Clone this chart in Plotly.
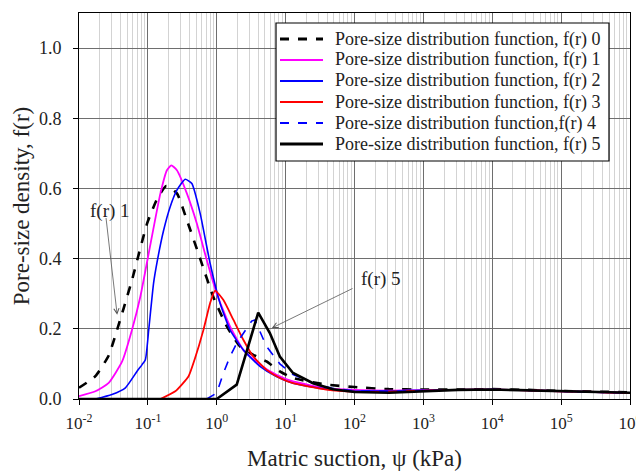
import plotly.graph_objects as go

# ---- data (suction in kPa, density) ----
x0 = [0.01, 0.0173, 0.027, 0.0358, 0.0447, 0.059, 0.0778, 0.0973, 0.136, 0.185, 0.264, 0.368, 0.574, 0.895,
      1.40, 2.17, 3.39, 5.28, 8.24, 12.8, 38.9, 100, 316, 1000, 3162, 1e4, 31623, 1e5, 316228, 1e6]
y0 = [0.032, 0.065, 0.124, 0.198, 0.26, 0.34, 0.43, 0.50, 0.57, 0.607, 0.586, 0.51, 0.40, 0.29,
      0.207, 0.15, 0.126, 0.107, 0.079, 0.06, 0.041, 0.034, 0.028, 0.027, 0.027, 0.028, 0.026, 0.023, 0.021, 0.019]

x1 = [0.01, 0.0173, 0.027, 0.0423, 0.059, 0.0778, 0.1087, 0.152, 0.189, 0.219, 0.264, 0.368, 0.514, 0.716,
      1.0, 1.56, 2.43, 4.24, 7.36, 12.8, 38.9, 100, 316, 1000, 3162, 1e4, 31623, 1e5, 316228, 1e6]
y1 = [0.008, 0.022, 0.046, 0.107, 0.198, 0.292, 0.44, 0.586, 0.652, 0.666, 0.652, 0.586, 0.50, 0.396,
      0.30, 0.207, 0.14, 0.098, 0.069, 0.05, 0.031, 0.026, 0.024, 0.025, 0.026, 0.027, 0.025, 0.022, 0.02, 0.017]

x2 = [0.0173, 0.030, 0.0472, 0.0697, 0.0824, 0.092, 0.103, 0.121, 0.136, 0.169, 0.211, 0.264, 0.348, 0.435,
      0.574, 0.80, 1.117, 1.56, 2.43, 4.24, 7.36, 12.8, 38.9, 100, 316, 1000, 3162, 1e4, 31623, 1e5, 316228, 1e6]
y2 = [0.0, 0.013, 0.032, 0.079, 0.098, 0.112, 0.198, 0.33, 0.39, 0.48, 0.548, 0.595, 0.626, 0.614,
      0.529, 0.387, 0.273, 0.197, 0.14, 0.093, 0.064, 0.045, 0.028, 0.023, 0.023, 0.025, 0.026, 0.027, 0.025, 0.022, 0.02, 0.017]

x3 = [0.152, 0.25, 0.39, 0.476, 0.641, 0.80, 0.946, 1.25, 1.74, 2.43, 3.39, 5.28, 8.24, 12.8, 38.9,
      100, 316, 1000, 3162, 1e4, 31623, 1e5, 316228, 1e6]
y3 = [0.0, 0.022, 0.065, 0.112, 0.197, 0.273, 0.309, 0.282, 0.226, 0.169, 0.121, 0.083, 0.06, 0.045, 0.027,
      0.021, 0.021, 0.024, 0.026, 0.027, 0.025, 0.022, 0.02, 0.017]

x4 = [0.716, 1.0, 1.25, 1.56, 1.95, 2.43, 3.21, 3.58, 5.28, 8.24, 12.8, 25, 48.6,
      100, 316, 1000, 3162, 1e4, 31623, 1e5, 316228, 1e6]
y4 = [0.0, 0.017, 0.074, 0.121, 0.159, 0.188, 0.222, 0.225, 0.15, 0.10, 0.07, 0.045, 0.03,
      0.023, 0.022, 0.024, 0.026, 0.027, 0.025, 0.022, 0.02, 0.017]

x5 = [0.01, 1.0, 1.95, 4.0, 5.9, 8.24, 12.8, 25, 48.6, 100, 316, 1000, 3162, 1e4, 31623, 1e5, 316228, 1e6]
y5 = [0.0, 0.0, 0.041, 0.246, 0.188, 0.121, 0.074, 0.045, 0.028, 0.02, 0.018, 0.023, 0.026, 0.027, 0.025, 0.022, 0.02, 0.018]

names = ["Pore-size distribution function, f(r) 0",
         "Pore-size distribution function, f(r) 1",
         "Pore-size distribution function, f(r) 2",
         "Pore-size distribution function, f(r) 3",
         "Pore-size distribution function,f(r) 4",
         "Pore-size distribution function, f(r) 5"]

x_tick_exp = [-2, -1, 0, 1, 2, 3, 4, 5, 6]
x_tick_text = ["10<sup>%d</sup>" % e for e in x_tick_exp]
y_tick_vals = [0.0, 0.2, 0.4, 0.6, 0.8, 1.0]
y_tick_text = ["0.0", "0.2", "0.4", "0.6", "0.8", "1.0"]
minor_vals = [m * 10.0 ** e for e in range(-2, 6) for m in range(2, 10)]

FONT = "Liberation Serif, Times New Roman, serif"
# the page body has an 8px default margin, so the figure div is offset by 8px
OFF = 8
W, H = 644 - OFF, 471 - OFF
PLOT_L, PLOT_R, PLOT_T, PLOT_B = 79, 630, 13, 399   # page pixel positions of the plot area
ML, MR, MT, MB = PLOT_L - OFF, W - (PLOT_R - OFF), PLOT_T - OFF, H - (PLOT_B - OFF)
PW, PH = PLOT_R - PLOT_L, PLOT_B - PLOT_T


def px2x(px):
    return (px - PLOT_L) / PW


def py2y(py):
    return (PLOT_B - py) / PH


fig = go.Figure()
styles = [
    dict(color="black", width=2.6, dash="dash"),
    dict(color="#ff00ff", width=1.8),
    dict(color="#0000ff", width=1.6),
    dict(color="#ff0000", width=1.8),
    dict(color="#0000ff", width=1.6, dash="dash"),
    dict(color="black", width=2.6),
]
shapes = ["spline", "spline", "spline", "spline", "linear", "linear"]
for xs, ys, nm, st, sh in zip([x0, x1, x2, x3, x4, x5], [y0, y1, y2, y3, y4, y5], names, styles, shapes):
    fig.add_trace(go.Scatter(x=xs, y=ys, name=nm, mode="lines", showlegend=False,
                             line=dict(shape=sh, smoothing=0.5, **st)))

# ---- legend box (drawn to match the reference's compact row spacing) ----
LEG_L, LEG_T, LEG_R, LEG_B = 276, 23, 609, 161
ROW0, ROW_H = 39, 21
SAMPLE_L, SAMPLE_R, TEXT_L = 280, 323, 333
fig.add_shape(type="rect", xref="paper", yref="paper",
              x0=px2x(LEG_L), x1=px2x(LEG_R), y0=py2y(LEG_B), y1=py2y(LEG_T),
              line=dict(color="black", width=1.2), fillcolor="white", layer="above")
for i, (nm, st) in enumerate(zip(names, styles)):
    yc = py2y(ROW0 + ROW_H * i)
    ldash = st.get("dash", "solid")
    fig.add_shape(type="line", xref="paper", yref="paper",
                  x0=px2x(SAMPLE_L), x1=px2x(SAMPLE_R), y0=yc, y1=yc,
                  line=dict(color=st["color"], width=st["width"] + 0.4, dash=ldash), layer="above")
    fig.add_annotation(x=px2x(TEXT_L), y=yc, xref="paper", yref="paper", xanchor="left", yanchor="middle",
                       text=nm, showarrow=False, font=dict(family=FONT, size=18, color="#222"))

# annotation arrows
fig.add_annotation(x=-1.446, y=0.24, ax=-1.61, ay=0.52, axref="x", ayref="y", xref="x", yref="y",
                   text="", showarrow=True, arrowhead=5, arrowsize=1.3, arrowwidth=0.8, arrowcolor="#555")
fig.add_annotation(x=-1.55, y=0.537, xref="x", yref="y", text="f(r) 1", showarrow=False,
                   font=dict(family=FONT, size=19, color="#222"))
fig.add_annotation(x=0.80, y=0.2024, ax=1.993, ay=0.317, axref="x", ayref="y", xref="x", yref="y",
                   text="", showarrow=True, arrowhead=5, arrowsize=1.3, arrowwidth=0.8, arrowcolor="#555")
fig.add_annotation(x=2.38, y=0.342, xref="x", yref="y", text="f(r) 5", showarrow=False,
                   font=dict(family=FONT, size=19, color="#222"))

fig.update_layout(
    width=W, height=H,
    margin=dict(l=ML, r=MR, t=MT, b=MB, autoexpand=False),
    paper_bgcolor="white", plot_bgcolor="white",
    font=dict(family=FONT, size=17, color="#222"),
    showlegend=False,
    xaxis=dict(type="log", range=[-2, 6], automargin=False,
               tickmode="array", tickvals=[10.0 ** e for e in x_tick_exp], ticktext=x_tick_text,
               ticks="outside", ticklen=5, tickcolor="black", ticklabelstandoff=4,
               showline=True, linecolor="black", linewidth=1, mirror=True,
               showgrid=True, gridcolor="#6e6e6e", gridwidth=1,
               minor=dict(tickmode="array", tickvals=minor_vals, showgrid=True,
                          gridcolor="#d3d3d3", gridwidth=1, ticks=""),
               zeroline=False,
               title=dict(text="Matric suction, ψ (kPa)", font=dict(family=FONT, size=23), standoff=18),
               tickfont=dict(family=FONT, size=17)),
    yaxis=dict(range=[0, 1.1], automargin=False,
               tickmode="array", tickvals=y_tick_vals, ticktext=y_tick_text,
               ticks="outside", ticklen=5, tickcolor="black", ticklabelstandoff=8,
               showline=True, linecolor="black", linewidth=1, mirror=True,
               showgrid=True, gridcolor="#6e6e6e", gridwidth=1,
               zeroline=False,
               title=dict(text="Pore-size density, f(r)", font=dict(family=FONT, size=23), standoff=2),
               tickfont=dict(family=FONT, size=18)),
)

fig.write_html("out.html")
